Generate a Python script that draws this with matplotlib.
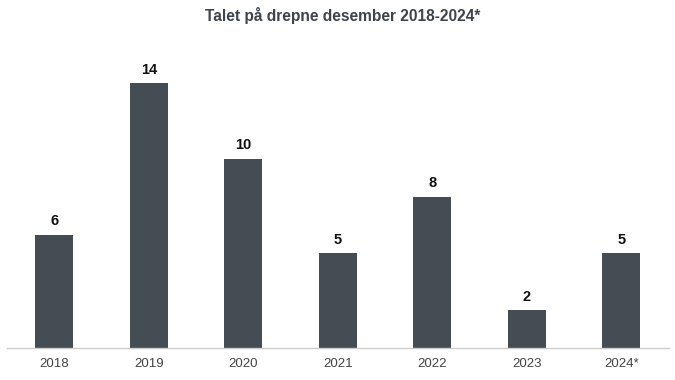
import matplotlib
matplotlib.use("Agg")
import matplotlib.pyplot as plt

years = ["2018", "2019", "2020", "2021", "2022", "2023", "2024*"]
deaths = [6, 14, 10, 5, 8, 2, 5]

plt.rcParams['font.family'] = ['Liberation Sans', 'DejaVu Sans']

fig = plt.figure(figsize=(6.75, 3.8), dpi=100)
ax = fig.add_axes([0.0104, 0.0842, 0.98, 0.796])

x = range(len(years))
bars = ax.bar(x, deaths, width=0.4, color="#454d54", zorder=2)
for xi, v in zip(x, deaths):
    ax.text(xi, v + 0.35, str(v), ha="center", va="bottom",
            fontsize=10.5, fontweight="bold", color="#111111")

ax.set_xlim(-0.5, 6.5)
ax.set_ylim(0, 16)
ax.set_xticks(list(x))
ax.set_xticklabels(years, fontsize=9.5, color="#444444")
ax.tick_params(axis="x", length=0, pad=7)
ax.set_yticks([])
for s in ["top", "right", "left"]:
    ax.spines[s].set_visible(False)
ax.spines["bottom"].set_color("#cccccc")
ax.spines["bottom"].set_linewidth(1)

fig.text(0.508, 0.96, "Talet på drepne desember 2018-2024*", ha="center", va="center",
         fontsize=11.2, fontweight="bold", color="#3d444b")

fig.savefig("out.png", dpi=100)
